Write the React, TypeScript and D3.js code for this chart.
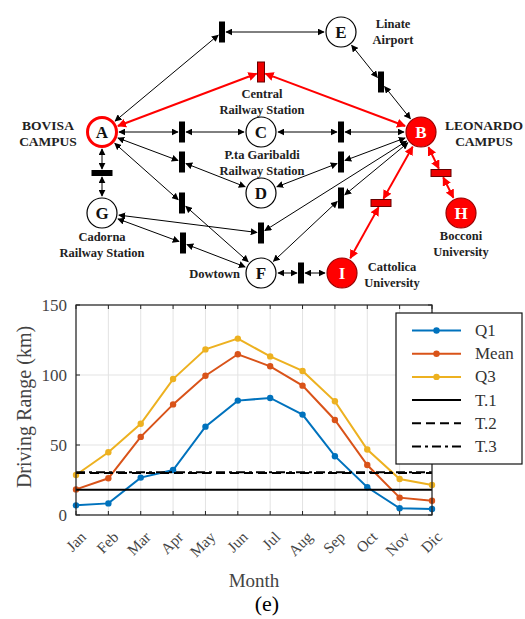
import React from "react";
import * as d3 from "d3";

// ---------- Chart data ----------
const months = ["Jan", "Feb", "Mar", "Apr", "May", "Jun", "Jul", "Aug", "Sep", "Oct", "Nov", "Dic"];
const q1 = [6.9, 8.3, 26.7, 32.1, 63.1, 81.7, 83.6, 71.7, 42.0, 19.8, 4.8, 4.3];
const meanVals = [18.3, 26.2, 55.8, 79.0, 99.5, 114.8, 106.2, 92.4, 67.9, 35.7, 12.4, 10.2];
const q3 = [28.6, 44.8, 65.2, 97.1, 118.3, 126.0, 113.3, 102.9, 81.2, 46.8, 25.7, 21.4];
const thresholdNames = ["T.1", "T.2", "T.3"];
const thresholdValues = [18, 30, 30.5];
const yTicks = [0, 50, 100, 150];
const seriesNames = ["Q1", "Mean", "Q3"];

// ---------- Network data ----------
const placeNodes = [
  { id: "A", x: 102, y: 132, kind: "ring" },
  { id: "B", x: 421, y: 132, kind: "red" },
  { id: "C", x: 261, y: 132, kind: "plain" },
  { id: "D", x: 261, y: 193, kind: "plain" },
  { id: "E", x: 341, y: 32, kind: "plain" },
  { id: "F", x: 261, y: 273, kind: "plain" },
  { id: "G", x: 102, y: 213, kind: "plain" },
  { id: "H", x: 461, y: 213, kind: "red" },
  { id: "I", x: 342, y: 273, kind: "red" },
];
const transitions = [
  { id: "t1", x: 222, y: 32, o: "v", red: false },
  { id: "t2", x: 261, y: 72, o: "v", red: true },
  { id: "t3", x: 381, y: 82, o: "v", red: false },
  { id: "t4", x: 182, y: 132, o: "v", red: false },
  { id: "t5", x: 341, y: 132, o: "v", red: false },
  { id: "t6", x: 182, y: 162, o: "v", red: false },
  { id: "t7", x: 341, y: 162, o: "v", red: false },
  { id: "t8", x: 182, y: 203, o: "v", red: false },
  { id: "t9", x: 341, y: 198, o: "v", red: false },
  { id: "t10", x: 261, y: 233, o: "v", red: false },
  { id: "t11", x: 183, y: 243, o: "v", red: false },
  { id: "t12", x: 102, y: 173, o: "h", red: false },
  { id: "t13", x: 301, y: 273, o: "v", red: false },
  { id: "t14", x: 381, y: 203, o: "h", red: true },
  { id: "t15", x: 441, y: 173, o: "h", red: true },
];
const links = [
  ["A", "t1"], ["t1", "E"], ["A", "t2"], ["t2", "B"], ["E", "t3"], ["t3", "B"],
  ["A", "t4"], ["t4", "C"], ["C", "t5"], ["t5", "B"], ["A", "t6"], ["t6", "D"],
  ["D", "t7"], ["t7", "B"], ["A", "t8"], ["t8", "F"], ["B", "t9"], ["t9", "F"],
  ["B", "t10"], ["t10", "G"], ["G", "t11"], ["t11", "F"], ["A", "t12"], ["t12", "G"],
  ["F", "t13"], ["t13", "I"], ["B", "t14"], ["t14", "I"], ["B", "t15"], ["t15", "H"],
];
const redLinks = ["A-t2", "t2-B", "B-t14", "t14-I", "B-t15", "t15-H"];
const placeLabels = [
  { lines: ["Linate", "Airport"], x: 393, y: 28, size: 12.5, anchor: "middle" },
  { lines: ["Central", "Railway Station"], x: 262, y: 98, size: 12.5, anchor: "middle" },
  { lines: ["BOVISA", "CAMPUS"], x: 48, y: 130, size: 13.5, anchor: "middle" },
  { lines: ["LEONARDO", "CAMPUS"], x: 484, y: 130, size: 13.5, anchor: "middle" },
  { lines: ["P.ta Garibaldi", "Railway Station"], x: 262, y: 159, size: 12.5, anchor: "middle" },
  { lines: ["Cadorna", "Railway Station"], x: 102, y: 241, size: 12.5, anchor: "middle" },
  { lines: ["Dowtown"], x: 240, y: 278, size: 12.5, anchor: "end" },
  { lines: ["Bocconi", "University"], x: 461, y: 240, size: 12.5, anchor: "middle" },
  { lines: ["Cattolica", "University"], x: 392, y: 271, size: 12.5, anchor: "middle" },
];

const colors = ["#0072BD", "#D95319", "#EDB120"];
const R = 15;

function barSize(t: any) {
  if (t.o === "v") return t.red ? [7, 20] : [6, 21];
  return t.red ? [20, 7] : [21, 6];
}

export default function App() {
  const x = d3.scalePoint<string>().domain(months).range([76, 432]);
  const y = d3.scaleLinear().domain([0, 150]).range([515, 305]);
  const line = d3
    .line<number>()
    .x((_, i) => x(months[i]) as number)
    .y((d) => y(d));
  const series = [q1, meanVals, q3];

  const lookup: Record<string, any> = {};
  placeNodes.forEach((n) => (lookup[n.id] = { ...n, type: "place" }));
  transitions.forEach((t) => (lookup[t.id] = { ...t, type: "trans" }));

  const trim = (n: any, dx: number, dy: number) => {
    const len = Math.hypot(dx, dy);
    if (n.type === "place") return R + 2;
    const [w, h] = barSize(n);
    const tx = Math.abs(dx) > 1e-6 ? w / 2 / Math.abs(dx / len) : Infinity;
    const ty = Math.abs(dy) > 1e-6 ? h / 2 / Math.abs(dy / len) : Infinity;
    return Math.min(tx, ty) + 1;
  };

  const serif = "'Liberation Serif', 'Times New Roman', serif";
  const xMin = 76, xMax = 432, yTop = 305, yBot = 515;

  return (
    <svg width={525} height={619} style={{ position: "absolute", left: 0, top: 0 }}>
      <defs>
        <marker id="ab" viewBox="0 0 10 10" refX="9" refY="5" markerWidth="7" markerHeight="7" markerUnits="userSpaceOnUse" orient="auto-start-reverse">
          <path d="M0,0 L10,5 L0,10 z" fill="#000" />
        </marker>
        <marker id="ar" viewBox="0 0 10 10" refX="9" refY="5" markerWidth="9" markerHeight="9" markerUnits="userSpaceOnUse" orient="auto-start-reverse">
          <path d="M0,0 L10,5 L0,10 z" fill="#f00" />
        </marker>
      </defs>
      <rect width={525} height={619} fill="#fff" />

      {/* Network links */}
      {links.map(([a, b]) => {
        const na = lookup[a], nb = lookup[b];
        const dx = nb.x - na.x, dy = nb.y - na.y;
        const len = Math.hypot(dx, dy);
        const ux = dx / len, uy = dy / len;
        const ta = trim(na, dx, dy), tb = trim(nb, dx, dy);
        const red = redLinks.includes(`${a}-${b}`);
        return (
          <line
            key={`${a}-${b}`}
            x1={na.x + ux * ta}
            y1={na.y + uy * ta}
            x2={nb.x - ux * tb}
            y2={nb.y - uy * tb}
            stroke={red ? "#f00" : "#000"}
            strokeWidth={red ? 2 : 1}
            markerStart={red ? "url(#ar)" : "url(#ab)"}
            markerEnd={red ? "url(#ar)" : "url(#ab)"}
          />
        );
      })}

      {/* Transitions */}
      {transitions.map((t) => {
        const [w, h] = barSize(t);
        return (
          <rect
            key={t.id}
            x={t.x - w / 2}
            y={t.y - h / 2}
            width={w}
            height={h}
            fill={t.red ? "#e00" : "#000"}
            stroke={t.red ? "#600" : "none"}
            strokeWidth={1}
          />
        );
      })}

      {/* Places */}
      {placeNodes.map((n) => (
        <g key={n.id}>
          <circle
            cx={n.x}
            cy={n.y}
            r={n.kind === "ring" ? R - 0.5 : R}
            fill={n.kind === "red" ? "#f00" : "#fff"}
            stroke={n.kind === "ring" ? "#f00" : n.kind === "red" ? "#900" : "#000"}
            strokeWidth={n.kind === "ring" ? 3 : 1.2}
          />
          <text
            x={n.x}
            y={n.y + 6}
            textAnchor="middle"
            fontFamily={serif}
            fontWeight="bold"
            fontSize={17}
            fill={n.kind === "red" ? "#fff" : "#111"}
          >
            {n.id}
          </text>
        </g>
      ))}

      {/* Place labels */}
      {placeLabels.map((l, i) => (
        <text key={i} fontFamily={serif} fontWeight="bold" fontSize={l.size} fill="#222" textAnchor={l.anchor as any}>
          {l.lines.map((s, j) => (
            <tspan key={j} x={l.x} y={l.y + j * 15.5}>
              {s}
            </tspan>
          ))}
        </text>
      ))}

      {/* ---------- Line chart ---------- */}
      <rect x={xMin} y={yTop} width={xMax - xMin} height={yBot - yTop} fill="#fff" />
      {months.map((m) => (
        <line key={"gx" + m} x1={x(m)} x2={x(m)} y1={yTop} y2={yBot} stroke="#e3e3e3" strokeWidth={1} />
      ))}
      {yTicks.map((t) => (
        <line key={"gy" + t} x1={xMin} x2={xMax} y1={y(t)} y2={y(t)} stroke="#e3e3e3" strokeWidth={1} />
      ))}

      {series.map((s, i) => (
        <g key={"s" + i}>
          <path d={line(s) as string} fill="none" stroke={colors[i]} strokeWidth={2} />
          {s.map((v, j) => (
            <circle key={j} cx={x(months[j])} cy={y(v)} r={3.2} fill={colors[i]} />
          ))}
        </g>
      ))}

      {thresholdValues.map((v, i) => (
        <line
          key={"t" + i}
          x1={xMin}
          x2={xMax}
          y1={y(v)}
          y2={y(v)}
          stroke="#000"
          strokeWidth={2}
          strokeDasharray={i === 0 ? undefined : i === 1 ? "9,5" : "9,4,3,4"}
        />
      ))}

      {/* axis box & ticks */}
      <rect x={xMin} y={yTop} width={xMax - xMin} height={yBot - yTop} fill="none" stroke="#222" strokeWidth={1.2} />
      {months.map((m) => (
        <g key={"tk" + m}>
          <line x1={x(m)} x2={x(m)} y1={yBot} y2={yBot - 4} stroke="#222" />
          <line x1={x(m)} x2={x(m)} y1={yTop} y2={yTop + 4} stroke="#222" />
        </g>
      ))}
      {yTicks.map((t) => (
        <g key={"yt" + t}>
          <line x1={xMin} x2={xMin + 4} y1={y(t)} y2={y(t)} stroke="#222" />
          <line x1={xMax} x2={xMax - 4} y1={y(t)} y2={y(t)} stroke="#222" />
          <text x={67} y={y(t) + 6} textAnchor="end" fontFamily={serif} fontSize={17} fill="#444">
            {t}
          </text>
        </g>
      ))}
      {months.map((m) => (
        <text
          key={"ml" + m}
          transform={`translate(${(x(m) as number) + 11},${yBot + 23}) rotate(-45)`}
          textAnchor="end"
          fontFamily={serif}
          fontSize={15.5}
          fill="#444"
        >
          {m}
        </text>
      ))}
      <text x={254} y={587} textAnchor="middle" fontFamily={serif} fontSize={19} fill="#444">
        Month
      </text>
      <text transform={`translate(31,${(yTop + yBot) / 2 - 3}) rotate(-90)`} textAnchor="middle" fontFamily={serif} fontSize={20} fill="#444">
        Driving Range (km)
      </text>
      <text x={267} y={611} textAnchor="middle" fontFamily={serif} fontSize={22} fill="#000">
        (e)
      </text>

      {/* Legend */}
      <rect x={396} y={313} width={126} height={151} fill="#fff" stroke="#111" strokeWidth={1.2} />
      {[...seriesNames, ...thresholdNames].map((name, i) => {
        const ly = 330.5 + i * 23.2;
        const isSeries = i < 3;
        return (
          <g key={"lg" + name}>
            <line
              x1={412}
              x2={461}
              y1={ly}
              y2={ly}
              stroke={isSeries ? colors[i] : "#000"}
              strokeWidth={2}
              strokeDasharray={i === 4 ? "9,5" : i === 5 ? "9,4,3,4" : undefined}
            />
            {isSeries && <circle cx={436.5} cy={ly} r={3.2} fill={colors[i]} />}
            <text x={475} y={ly + 5.5} fontFamily={serif} fontSize={17} fill="#333">
              {name}
            </text>
          </g>
        );
      })}
    </svg>
  );
}
